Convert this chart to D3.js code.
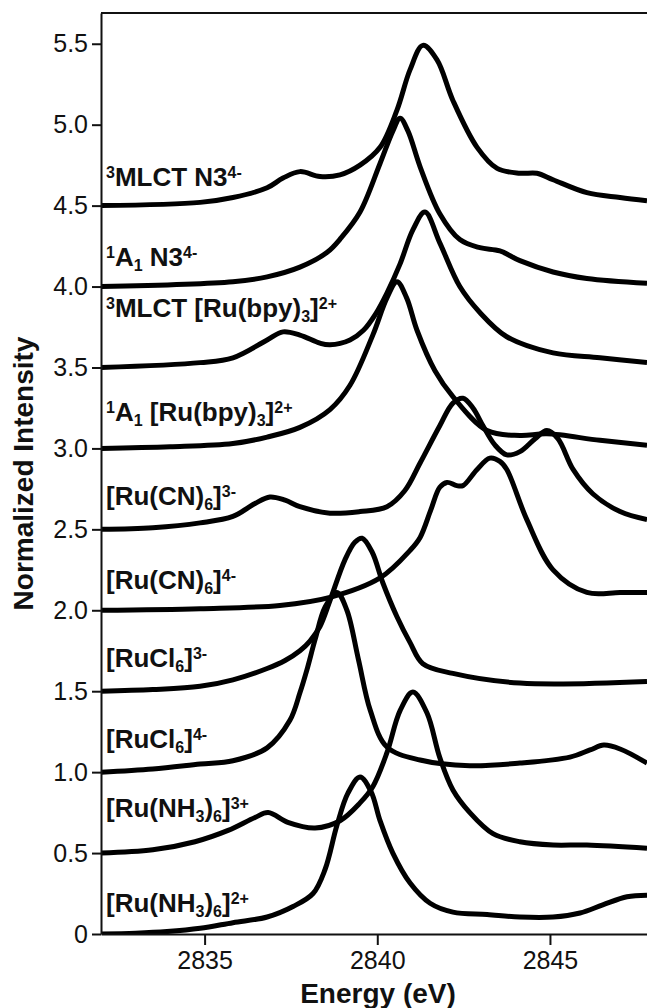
<!DOCTYPE html>
<html>
<head>
<meta charset="utf-8">
<script src="https://cdn.jsdelivr.net/npm/d3@7"></script>
<style>
  html, body { margin: 0; padding: 0; background: #fff; }
  svg { display: block; }
  text { font-family: "Liberation Sans", Arial, Helvetica, sans-serif; fill: #111; }
</style>
</head>
<body>
<svg id="chart" width="647" height="1008"></svg>
<script>
// ---- Data: Ru L3-edge spectra, stacked by 0.5 (energy eV, normalized intensity) ----
const xTicks = [2835, 2840, 2845];
const yTicks = [0, 0.5, 1.0, 1.5, 2.0, 2.5, 3.0, 3.5, 4.0, 4.5, 5.0, 5.5];

const ruNH3_2plus = [[2832.00,0.00],[2833.0,0.005],[2833.91,0.015],[2834.87,0.035],[2835.82,0.07],[2836.81,0.105],[2837.56,0.17],[2838.14,0.25],[2838.49,0.40],[2838.83,0.67],[2839.15,0.87],[2839.50,0.97],[2839.82,0.88],[2840.08,0.70],[2840.45,0.50],[2840.95,0.315],[2841.53,0.19],[2842.19,0.135],[2843.18,0.12],[2844.13,0.105],[2845.09,0.105],[2845.87,0.13],[2846.53,0.18],[2847.23,0.23],[2847.81,0.24]];
const ruNH3_3plus = [[2832.00,0.50],[2833.5,0.52],[2834.72,0.57],[2835.68,0.64],[2836.46,0.72],[2836.84,0.75],[2837.41,0.69],[2838.20,0.655],[2838.92,0.70],[2839.50,0.81],[2839.87,0.91],[2840.28,1.12],[2840.66,1.38],[2841.03,1.495],[2841.44,1.365],[2841.81,1.09],[2842.19,0.89],[2842.68,0.75],[2843.35,0.62],[2844.13,0.57],[2845.09,0.55],[2846.07,0.55],[2847.81,0.53]];
const ruCl6_4minus = [[2832.00,1.00],[2833.5,1.02],[2834.87,1.05],[2835.82,1.07],[2836.81,1.15],[2837.47,1.32],[2837.76,1.49],[2837.96,1.63],[2838.20,1.82],[2838.49,2.02],[2838.83,2.11],[2839.12,2.00],[2839.45,1.70],[2839.80,1.38],[2840.28,1.155],[2841.24,1.075],[2842.68,1.04],[2844.13,1.056],[2845.58,1.093],[2846.16,1.137],[2846.56,1.167],[2847.03,1.143],[2847.81,1.056]];
const ruCl6_3minus = [[2832.00,1.50],[2833.5,1.51],[2834.87,1.53],[2835.82,1.57],[2836.81,1.64],[2837.33,1.69],[2837.76,1.75],[2838.05,1.81],[2838.34,1.90],[2838.63,2.06],[2839.06,2.31],[2839.35,2.42],[2839.56,2.445],[2839.85,2.36],[2840.16,2.17],[2840.57,1.96],[2840.95,1.80],[2841.32,1.67],[2842.19,1.61],[2844.13,1.55],[2847.81,1.56]];
const ruCN6_4minus = [[2832.00,2.00],[2834.87,2.01],[2837.18,2.03],[2838.63,2.08],[2840.08,2.20],[2840.95,2.37],[2841.24,2.45],[2841.55,2.62],[2841.81,2.76],[2842.02,2.79],[2842.30,2.77],[2842.48,2.77],[2842.89,2.87],[2843.26,2.94],[2843.55,2.92],[2843.75,2.87],[2844.33,2.56],[2845.09,2.25],[2846.07,2.11],[2847.03,2.11],[2847.81,2.11]];
const ruCN6_3minus = [[2832.00,2.50],[2833.5,2.51],[2834.87,2.54],[2835.82,2.58],[2836.46,2.66],[2836.89,2.70],[2837.33,2.68],[2837.76,2.64],[2838.63,2.60],[2839.50,2.61],[2840.28,2.64],[2840.80,2.74],[2841.24,2.91],[2841.81,3.14],[2842.19,3.28],[2842.48,3.31],[2842.77,3.25],[2843.06,3.14],[2843.41,3.02],[2843.75,2.96],[2844.13,2.98],[2844.57,3.06],[2844.91,3.11],[2845.23,3.06],[2845.67,2.87],[2846.24,2.72],[2847.03,2.61],[2847.81,2.56]];
const bpy_1A1 = [[2832.00,3.00],[2834.0,3.01],[2835.82,3.03],[2836.81,3.07],[2837.76,3.13],[2838.63,3.24],[2839.21,3.39],[2839.87,3.70],[2840.28,3.93],[2840.57,4.03],[2840.85,3.93],[2841.15,3.73],[2841.67,3.48],[2842.19,3.32],[2843.18,3.11],[2844.13,3.08],[2844.91,3.09],[2846.45,3.05],[2847.81,3.02]];
const bpy_3MLCT = [[2832.00,3.50],[2834.87,3.53],[2835.82,3.56],[2836.81,3.67],[2837.27,3.72],[2837.76,3.70],[2838.34,3.65],[2838.63,3.64],[2839.21,3.67],[2839.60,3.73],[2839.95,3.83],[2840.28,3.96],[2840.66,4.14],[2841.03,4.35],[2841.38,4.46],[2841.81,4.27],[2842.39,4.00],[2842.97,3.84],[2843.75,3.69],[2845.09,3.59],[2846.45,3.56],[2847.81,3.53]];
const n3_1A1 = [[2832.00,4.00],[2835.82,4.03],[2836.81,4.06],[2837.76,4.12],[2838.54,4.21],[2838.95,4.30],[2839.50,4.46],[2840.08,4.76],[2840.45,4.96],[2840.66,5.04],[2840.89,4.96],[2841.24,4.74],[2841.81,4.45],[2842.39,4.29],[2842.97,4.24],[2843.55,4.22],[2844.13,4.16],[2845.09,4.09],[2846.07,4.05],[2847.81,4.02]];
const n3_3MLCT = [[2832.00,4.50],[2834.87,4.52],[2835.82,4.55],[2836.81,4.61],[2837.27,4.67],[2837.76,4.71],[2838.34,4.68],[2838.92,4.69],[2839.50,4.75],[2840.08,4.86],[2840.57,5.09],[2840.95,5.34],[2841.32,5.49],[2841.73,5.40],[2842.19,5.15],[2842.89,4.86],[2843.47,4.73],[2844.13,4.70],[2844.62,4.70],[2845.09,4.66],[2846.07,4.58],[2847.03,4.55],[2847.81,4.53]];

// Series names: segments of [text, kind] where kind is "" | "sup" | "sub"
const names = [
  [["[Ru(NH",""],["3","sub"],[")",""],["6","sub"],["]",""],["2+","sup"]],
  [["[Ru(NH",""],["3","sub"],[")",""],["6","sub"],["]",""],["3+","sup"]],
  [["[RuCl",""],["6","sub"],["]",""],["4-","sup"]],
  [["[RuCl",""],["6","sub"],["]",""],["3-","sup"]],
  [["[Ru(CN)",""],["6","sub"],["]",""],["4-","sup"]],
  [["[Ru(CN)",""],["6","sub"],["]",""],["3-","sup"]],
  [["1","sup"],["A",""],["1","sub"],[" [Ru(bpy)",""],["3","sub"],["]",""],["2+","sup"]],
  [["3","sup"],["MLCT [Ru(bpy)",""],["3","sub"],["]",""],["2+","sup"]],
  [["1","sup"],["A",""],["1","sub"],[" N3",""],["4-","sup"]],
  [["3","sup"],["MLCT N3",""],["4-","sup"]]
];
const spectra = [ruNH3_2plus, ruNH3_3plus, ruCl6_4minus, ruCl6_3minus, ruCN6_4minus,
                 ruCN6_3minus, bpy_1A1, bpy_3MLCT, n3_1A1, n3_3MLCT];

// ---- Layout ----
const plot = { left: 101, right: 647, top: 13, bottom: 934 };
// label baselines, in intensity units
const labelBase = [0.136, 0.72, 1.15, 1.65, 2.13, 2.65, 3.17, 3.81, 4.13, 4.62];

const svg = d3.select("#chart");

const x = d3.scaleLinear().domain([2832, 2847.81]).range([plot.left, plot.right]);
const y = d3.scaleLinear().domain([0, 5.69]).range([plot.bottom, plot.top]);

svg.append("defs").append("clipPath").attr("id", "plotClip")
  .append("rect")
  .attr("x", plot.left).attr("y", plot.top)
  .attr("width", plot.right - plot.left).attr("height", plot.bottom - plot.top);

// spectra
const line = d3.line()
  .x(d => x(d[0]))
  .y(d => y(d[1]))
  .curve(d3.curveCatmullRom.alpha(0.5));

svg.append("g").attr("clip-path", "url(#plotClip)")
  .selectAll("path")
  .data(spectra)
  .join("path")
  .attr("d", line)
  .attr("fill", "none")
  .attr("stroke", "#000")
  .attr("stroke-width", 5)
  .attr("stroke-linejoin", "round");

// axes
const axisStyle = g => {
  g.select(".domain").attr("stroke", "#111").attr("stroke-width", 2);
  g.selectAll(".tick line").attr("stroke", "#111").attr("stroke-width", 2);
  g.selectAll(".tick text").attr("fill", "#222")
    .style("font-family", "'Liberation Sans', Arial, Helvetica, sans-serif")
    .style("font-size", "25px");
};

svg.append("g")
  .attr("transform", `translate(0,${plot.bottom})`)
  .call(d3.axisBottom(x).tickValues(xTicks).tickFormat(d3.format("d"))
        .tickSize(11).tickSizeOuter(0).tickPadding(6))
  .call(axisStyle);

svg.append("g")
  .attr("transform", `translate(${plot.left},0)`)
  .call(d3.axisLeft(y).tickValues(yTicks)
        .tickFormat(d => d === 0 ? "0" : d.toFixed(1))
        .tickSize(9).tickSizeOuter(0).tickPadding(4))
  .call(axisStyle);

// frame top edge
svg.append("line")
  .attr("x1", plot.left).attr("x2", plot.right)
  .attr("y1", plot.top).attr("y2", plot.top)
  .attr("stroke", "#111").attr("stroke-width", 2);

// axis titles
svg.append("text")
  .attr("x", 378).attr("y", 1003)
  .attr("text-anchor", "middle")
  .style("font-size", "28px").style("font-weight", "bold")
  .text("Energy (eV)");

svg.append("text")
  .attr("transform", `translate(33,${(plot.top + plot.bottom) / 2}) rotate(-90)`)
  .attr("text-anchor", "middle")
  .style("font-size", "28px").style("font-weight", "bold")
  .text("Normalized Intensity");

// series labels with super/subscripts
const shift = { "": 0, sup: -8, sub: 5 };
names.forEach((segs, i) => {
  const t = svg.append("text")
    .attr("x", 106).attr("y", y(labelBase[i]))
    .style("font-size", "26px").style("font-weight", "bold");
  let cur = 0;
  segs.forEach(([txt, kind]) => {
    const target = shift[kind];
    t.append("tspan")
      .attr("dy", target - cur)
      .style("font-size", kind ? "16px" : "26px")
      .text(txt);
    cur = target;
  });
});
</script>
</body>
</html>
